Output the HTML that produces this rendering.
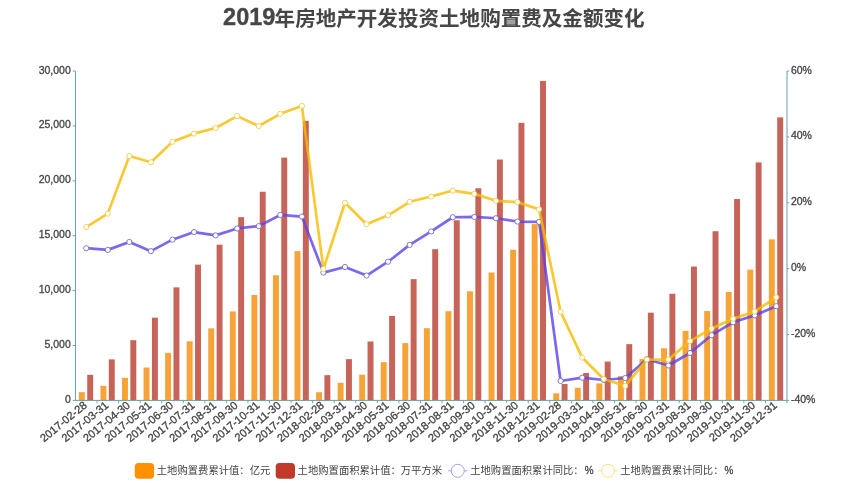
<!DOCTYPE html>
<html lang="zh-CN">
<head>
<meta charset="utf-8">
<title>2019年房地产开发投资土地购置费及金额变化</title>
<style>
html,body{margin:0;padding:0;background:#fff;}
body{width:865px;height:486px;overflow:hidden;font-family:"Liberation Sans",sans-serif;}
svg{display:block;will-change:transform;}
text{font-family:"Liberation Sans","Noto Sans CJK SC",sans-serif;}
.ax{fill:#444444;font-size:10.5px;stroke:#444444;stroke-width:0.3;}
.lg{fill:#444444;font-size:10.32px;}
</style>
</head>
<body>
<svg width="865" height="486" viewBox="0 0 865 486" role="img" aria-label="2019年房地产开发投资土地购置费及金额变化">
<rect width="865" height="486" fill="#fff"/>
<g fill="#464646" stroke="#464646" stroke-width="0.35"><title>2019年房地产开发投资土地购置费及金额变化</title>
<text x="223.1" y="25" font-size="23px" font-weight="bold" textLength="52.2" lengthAdjust="spacingAndGlyphs">2019</text>
<text x="274.6" y="25.5" font-size="20.55px" font-weight="bold" stroke="none" textLength="370" lengthAdjust="spacingAndGlyphs">年房地产开发投资土地购置费及金额变化</text>
</g>
<g fill="#f8a338">
<rect x="78.88" y="392.18" width="5.95" height="8.22"/><rect x="100.44" y="385.82" width="5.95" height="14.58"/><rect x="122.01" y="377.81" width="5.95" height="22.59"/><rect x="143.57" y="367.56" width="5.95" height="32.84"/><rect x="165.13" y="352.85" width="5.95" height="47.55"/><rect x="186.69" y="341.3" width="5.95" height="59.1"/><rect x="208.25" y="328.33" width="5.95" height="72.07"/><rect x="229.82" y="311.42" width="5.95" height="88.98"/><rect x="251.38" y="294.98" width="5.95" height="105.42"/><rect x="272.94" y="275.29" width="5.95" height="125.11"/><rect x="294.5" y="251.1" width="5.95" height="149.3"/><rect x="316.06" y="392.28" width="5.95" height="8.12"/><rect x="337.63" y="382.82" width="5.95" height="17.58"/><rect x="359.19" y="374.69" width="5.95" height="25.71"/><rect x="380.75" y="362.17" width="5.95" height="38.23"/><rect x="402.31" y="343.09" width="5.95" height="57.31"/><rect x="423.88" y="328.22" width="5.95" height="72.18"/><rect x="445.44" y="311.2" width="5.95" height="89.2"/><rect x="467" y="291.31" width="5.95" height="109.09"/><rect x="488.56" y="272.48" width="5.95" height="127.92"/><rect x="510.12" y="249.75" width="5.95" height="150.65"/><rect x="531.69" y="224.1" width="5.95" height="176.3"/><rect x="553.25" y="393.32" width="5.95" height="7.08"/><rect x="574.81" y="387.79" width="5.95" height="12.61"/><rect x="596.37" y="383.44" width="5.95" height="16.96"/><rect x="617.93" y="375.99" width="5.95" height="24.41"/><rect x="639.5" y="359.06" width="5.95" height="41.34"/><rect x="661.06" y="348.25" width="5.95" height="52.15"/><rect x="682.62" y="330.91" width="5.95" height="69.49"/><rect x="704.18" y="311.02" width="5.95" height="89.38"/><rect x="725.74" y="291.97" width="5.95" height="108.43"/><rect x="747.31" y="269.58" width="5.95" height="130.82"/><rect x="768.87" y="239.4" width="5.95" height="161"/>
</g>
<g fill="#c7645a">
<rect x="87.23" y="374.83" width="5.95" height="25.57"/><rect x="108.79" y="359.37" width="5.95" height="41.03"/><rect x="130.36" y="340.2" width="5.95" height="60.2"/><rect x="151.92" y="317.67" width="5.95" height="82.73"/><rect x="173.48" y="287.36" width="5.95" height="113.04"/><rect x="195.04" y="264.64" width="5.95" height="135.76"/><rect x="216.6" y="244.67" width="5.95" height="155.73"/><rect x="238.17" y="217.17" width="5.95" height="183.23"/><rect x="259.73" y="191.75" width="5.95" height="208.65"/><rect x="281.29" y="157.61" width="5.95" height="242.79"/><rect x="302.85" y="120.82" width="5.95" height="279.58"/><rect x="324.41" y="375.15" width="5.95" height="25.25"/><rect x="345.98" y="359.15" width="5.95" height="41.25"/><rect x="367.54" y="341.48" width="5.95" height="58.92"/><rect x="389.1" y="315.89" width="5.95" height="84.51"/><rect x="410.66" y="279.19" width="5.95" height="121.21"/><rect x="432.22" y="249.18" width="5.95" height="151.22"/><rect x="453.79" y="220.27" width="5.95" height="180.13"/><rect x="475.35" y="188.26" width="5.95" height="212.14"/><rect x="496.91" y="159.57" width="5.95" height="240.83"/><rect x="518.47" y="122.82" width="5.95" height="277.58"/><rect x="540.04" y="80.92" width="5.95" height="319.48"/><rect x="561.6" y="383.94" width="5.95" height="16.46"/><rect x="583.16" y="372.98" width="5.95" height="27.42"/><rect x="604.72" y="361.57" width="5.95" height="38.83"/><rect x="626.28" y="344.13" width="5.95" height="56.27"/><rect x="647.85" y="312.68" width="5.95" height="87.72"/><rect x="669.41" y="293.72" width="5.95" height="106.68"/><rect x="690.97" y="266.55" width="5.95" height="133.85"/><rect x="712.53" y="231.22" width="5.95" height="169.18"/><rect x="734.09" y="199.05" width="5.95" height="201.35"/><rect x="755.66" y="162.41" width="5.95" height="237.99"/><rect x="777.22" y="117.37" width="5.95" height="283.03"/>
</g>
<g stroke="#64a0a4" stroke-width="1" fill="none">
<path d="M75.45 71V400.4 M787 71V400.4 M75.45 400.4H787"/>
<path stroke="#7a9fa2" d="M72.65 400.4H75.45M72.65 345.5H75.45M72.65 290.6H75.45M72.65 235.7H75.45M72.65 180.8H75.45M72.65 125.9H75.45M72.65 71H75.45M787 400.4H789.2M787 334.52H789.2M787 268.64H789.2M787 202.76H789.2M787 136.88H789.2M787 71H789.2M97.01 400.4V403.2M118.57 400.4V403.2M140.14 400.4V403.2M161.7 400.4V403.2M183.26 400.4V403.2M204.82 400.4V403.2M226.38 400.4V403.2M247.95 400.4V403.2M269.51 400.4V403.2M291.07 400.4V403.2M312.63 400.4V403.2M334.2 400.4V403.2M355.76 400.4V403.2M377.32 400.4V403.2M398.88 400.4V403.2M420.44 400.4V403.2M442.01 400.4V403.2M463.57 400.4V403.2M485.13 400.4V403.2M506.69 400.4V403.2M528.25 400.4V403.2M549.82 400.4V403.2M571.38 400.4V403.2M592.94 400.4V403.2M614.5 400.4V403.2M636.07 400.4V403.2M657.63 400.4V403.2M679.19 400.4V403.2M700.75 400.4V403.2M722.31 400.4V403.2M743.88 400.4V403.2M765.44 400.4V403.2M787 400.4V403.2"/>
</g>
<g class="ax">
<text x="70.75" y="402.9" text-anchor="end">0</text><text x="70.75" y="348" text-anchor="end">5,000</text><text x="70.75" y="293.1" text-anchor="end">10,000</text><text x="70.75" y="238.2" text-anchor="end">15,000</text><text x="70.75" y="183.3" text-anchor="end">20,000</text><text x="70.75" y="128.4" text-anchor="end">25,000</text><text x="70.75" y="73.5" text-anchor="end">30,000</text>
<text x="790.9" y="402.9">-40%</text><text x="790.9" y="337.02">-20%</text><text x="790.9" y="271.14">0%</text><text x="790.9" y="205.26">20%</text><text x="790.9" y="139.38">40%</text><text x="790.9" y="73.5">60%</text>
<text transform="translate(85.33 403.6) rotate(-39.5)" text-anchor="end" y="3.7" style="font-size:11.1px">2017-02-28</text><text transform="translate(106.89 403.6) rotate(-39.5)" text-anchor="end" y="3.7" style="font-size:11.1px">2017-03-31</text><text transform="translate(128.46 403.6) rotate(-39.5)" text-anchor="end" y="3.7" style="font-size:11.1px">2017-04-30</text><text transform="translate(150.02 403.6) rotate(-39.5)" text-anchor="end" y="3.7" style="font-size:11.1px">2017-05-31</text><text transform="translate(171.58 403.6) rotate(-39.5)" text-anchor="end" y="3.7" style="font-size:11.1px">2017-06-30</text><text transform="translate(193.14 403.6) rotate(-39.5)" text-anchor="end" y="3.7" style="font-size:11.1px">2017-07-31</text><text transform="translate(214.7 403.6) rotate(-39.5)" text-anchor="end" y="3.7" style="font-size:11.1px">2017-08-31</text><text transform="translate(236.27 403.6) rotate(-39.5)" text-anchor="end" y="3.7" style="font-size:11.1px">2017-09-30</text><text transform="translate(257.83 403.6) rotate(-39.5)" text-anchor="end" y="3.7" style="font-size:11.1px">2017-10-31</text><text transform="translate(279.39 403.6) rotate(-39.5)" text-anchor="end" y="3.7" style="font-size:11.1px">2017-11-30</text><text transform="translate(300.95 403.6) rotate(-39.5)" text-anchor="end" y="3.7" style="font-size:11.1px">2017-12-31</text><text transform="translate(322.51 403.6) rotate(-39.5)" text-anchor="end" y="3.7" style="font-size:11.1px">2018-02-28</text><text transform="translate(344.08 403.6) rotate(-39.5)" text-anchor="end" y="3.7" style="font-size:11.1px">2018-03-31</text><text transform="translate(365.64 403.6) rotate(-39.5)" text-anchor="end" y="3.7" style="font-size:11.1px">2018-04-30</text><text transform="translate(387.2 403.6) rotate(-39.5)" text-anchor="end" y="3.7" style="font-size:11.1px">2018-05-31</text><text transform="translate(408.76 403.6) rotate(-39.5)" text-anchor="end" y="3.7" style="font-size:11.1px">2018-06-30</text><text transform="translate(430.32 403.6) rotate(-39.5)" text-anchor="end" y="3.7" style="font-size:11.1px">2018-07-31</text><text transform="translate(451.89 403.6) rotate(-39.5)" text-anchor="end" y="3.7" style="font-size:11.1px">2018-08-31</text><text transform="translate(473.45 403.6) rotate(-39.5)" text-anchor="end" y="3.7" style="font-size:11.1px">2018-09-30</text><text transform="translate(495.01 403.6) rotate(-39.5)" text-anchor="end" y="3.7" style="font-size:11.1px">2018-10-31</text><text transform="translate(516.57 403.6) rotate(-39.5)" text-anchor="end" y="3.7" style="font-size:11.1px">2018-11-30</text><text transform="translate(538.14 403.6) rotate(-39.5)" text-anchor="end" y="3.7" style="font-size:11.1px">2018-12-31</text><text transform="translate(559.7 403.6) rotate(-39.5)" text-anchor="end" y="3.7" style="font-size:11.1px">2019-02-28</text><text transform="translate(581.26 403.6) rotate(-39.5)" text-anchor="end" y="3.7" style="font-size:11.1px">2019-03-31</text><text transform="translate(602.82 403.6) rotate(-39.5)" text-anchor="end" y="3.7" style="font-size:11.1px">2019-04-30</text><text transform="translate(624.38 403.6) rotate(-39.5)" text-anchor="end" y="3.7" style="font-size:11.1px">2019-05-31</text><text transform="translate(645.95 403.6) rotate(-39.5)" text-anchor="end" y="3.7" style="font-size:11.1px">2019-06-30</text><text transform="translate(667.51 403.6) rotate(-39.5)" text-anchor="end" y="3.7" style="font-size:11.1px">2019-07-31</text><text transform="translate(689.07 403.6) rotate(-39.5)" text-anchor="end" y="3.7" style="font-size:11.1px">2019-08-31</text><text transform="translate(710.63 403.6) rotate(-39.5)" text-anchor="end" y="3.7" style="font-size:11.1px">2019-09-30</text><text transform="translate(732.19 403.6) rotate(-39.5)" text-anchor="end" y="3.7" style="font-size:11.1px">2019-10-31</text><text transform="translate(753.76 403.6) rotate(-39.5)" text-anchor="end" y="3.7" style="font-size:11.1px">2019-11-30</text><text transform="translate(775.32 403.6) rotate(-39.5)" text-anchor="end" y="3.7" style="font-size:11.1px">2019-12-31</text>
</g>
<polyline points="86.23,248.22 107.79,249.86 129.36,241.96 150.92,251.18 172.48,239.65 194.04,232.08 215.6,235.37 237.17,228.45 258.73,226.15 280.29,214.95 301.85,216.59 323.41,272.59 344.98,266.99 366.54,275.56 388.1,261.72 409.66,244.92 431.22,231.42 452.79,217.25 474.35,216.92 495.91,218.24 517.47,221.54 539.04,221.87 560.6,380.97 582.16,377.67 603.72,379.98 625.28,378 646.85,359.22 668.41,365.48 689.97,352.97 711.53,335.18 733.09,322.33 754.66,315.41 776.22,306.19" fill="none" stroke="#5a42ea" stroke-width="2.7" stroke-linejoin="bevel" stroke-opacity="0.8"/>
<g fill="#fff" stroke="#6d63c2" stroke-width="0.85"><circle cx="86.23" cy="248.22" r="2.6"/><circle cx="107.79" cy="249.86" r="2.6"/><circle cx="129.36" cy="241.96" r="2.6"/><circle cx="150.92" cy="251.18" r="2.6"/><circle cx="172.48" cy="239.65" r="2.6"/><circle cx="194.04" cy="232.08" r="2.6"/><circle cx="215.6" cy="235.37" r="2.6"/><circle cx="237.17" cy="228.45" r="2.6"/><circle cx="258.73" cy="226.15" r="2.6"/><circle cx="280.29" cy="214.95" r="2.6"/><circle cx="301.85" cy="216.59" r="2.6"/><circle cx="323.41" cy="272.59" r="2.6"/><circle cx="344.98" cy="266.99" r="2.6"/><circle cx="366.54" cy="275.56" r="2.6"/><circle cx="388.1" cy="261.72" r="2.6"/><circle cx="409.66" cy="244.92" r="2.6"/><circle cx="431.22" cy="231.42" r="2.6"/><circle cx="452.79" cy="217.25" r="2.6"/><circle cx="474.35" cy="216.92" r="2.6"/><circle cx="495.91" cy="218.24" r="2.6"/><circle cx="517.47" cy="221.54" r="2.6"/><circle cx="539.04" cy="221.87" r="2.6"/><circle cx="560.6" cy="380.97" r="2.6"/><circle cx="582.16" cy="377.67" r="2.6"/><circle cx="603.72" cy="379.98" r="2.6"/><circle cx="625.28" cy="378" r="2.6"/><circle cx="646.85" cy="359.22" r="2.6"/><circle cx="668.41" cy="365.48" r="2.6"/><circle cx="689.97" cy="352.97" r="2.6"/><circle cx="711.53" cy="335.18" r="2.6"/><circle cx="733.09" cy="322.33" r="2.6"/><circle cx="754.66" cy="315.41" r="2.6"/><circle cx="776.22" cy="306.19" r="2.6"/></g>
<polyline points="86.23,227.14 107.79,213.63 129.36,155.99 150.92,162.24 172.48,141.82 194.04,133.59 215.6,127.99 237.17,116.13 258.73,126.01 280.29,113.82 301.85,105.92 323.41,268.97 344.98,202.76 366.54,224.17 388.1,215.28 409.66,201.77 431.22,196.5 452.79,190.57 474.35,193.87 495.91,200.78 517.47,202.1 539.04,209.35 560.6,311.79 582.16,357.58 603.72,378.99 625.28,385.91 646.85,359.55 668.41,359.55 689.97,341.11 711.53,328.59 733.09,318.71 754.66,311.46 776.22,297.3" fill="none" stroke="#f6bb00" stroke-width="2.7" stroke-linejoin="bevel" stroke-opacity="0.8"/>
<g fill="#fff" stroke="#e6cc48" stroke-width="0.85"><circle cx="86.23" cy="227.14" r="2.6"/><circle cx="107.79" cy="213.63" r="2.6"/><circle cx="129.36" cy="155.99" r="2.6"/><circle cx="150.92" cy="162.24" r="2.6"/><circle cx="172.48" cy="141.82" r="2.6"/><circle cx="194.04" cy="133.59" r="2.6"/><circle cx="215.6" cy="127.99" r="2.6"/><circle cx="237.17" cy="116.13" r="2.6"/><circle cx="258.73" cy="126.01" r="2.6"/><circle cx="280.29" cy="113.82" r="2.6"/><circle cx="301.85" cy="105.92" r="2.6"/><circle cx="323.41" cy="268.97" r="2.6"/><circle cx="344.98" cy="202.76" r="2.6"/><circle cx="366.54" cy="224.17" r="2.6"/><circle cx="388.1" cy="215.28" r="2.6"/><circle cx="409.66" cy="201.77" r="2.6"/><circle cx="431.22" cy="196.5" r="2.6"/><circle cx="452.79" cy="190.57" r="2.6"/><circle cx="474.35" cy="193.87" r="2.6"/><circle cx="495.91" cy="200.78" r="2.6"/><circle cx="517.47" cy="202.1" r="2.6"/><circle cx="539.04" cy="209.35" r="2.6"/><circle cx="560.6" cy="311.79" r="2.6"/><circle cx="582.16" cy="357.58" r="2.6"/><circle cx="603.72" cy="378.99" r="2.6"/><circle cx="625.28" cy="385.91" r="2.6"/><circle cx="646.85" cy="359.55" r="2.6"/><circle cx="668.41" cy="359.55" r="2.6"/><circle cx="689.97" cy="341.11" r="2.6"/><circle cx="711.53" cy="328.59" r="2.6"/><circle cx="733.09" cy="318.71" r="2.6"/><circle cx="754.66" cy="311.46" r="2.6"/><circle cx="776.22" cy="297.3" r="2.6"/></g>
<g><title>土地购置费累计值：亿元</title><rect x="134.8" y="462.9" width="19.3" height="15.8" rx="3.8" fill="#ff9000"/><text class="lg" x="156.8" y="473.9" textLength="113.5" lengthAdjust="spacingAndGlyphs">土地购置费累计值：亿元</text></g>
<g><title>土地购置面积累计值：万平方米</title><rect x="275.7" y="462.9" width="19.3" height="15.8" rx="3.8" fill="#c0392b"/><text class="lg" x="297.6" y="473.9" textLength="144.5" lengthAdjust="spacingAndGlyphs">土地购置面积累计值：万平方米</text></g>
<g><title>土地购置面积累计同比：%</title><path d="M448.1 470.8H467.4" stroke="#9488ee" stroke-width="0.8" fill="none"/><circle cx="457.75" cy="470.8" r="6.5" fill="#fff" stroke="#9488ee" stroke-width="0.8"/><text class="lg" x="470.2" y="473.9" textLength="113.5" lengthAdjust="spacingAndGlyphs">土地购置面积累计同比：</text><text class="ax" x="584.72" y="474.2" style="font-size:11.6px" textLength="8.8" lengthAdjust="spacingAndGlyphs">%</text></g>
<g><title>土地购置费累计同比：%</title><path d="M598.4 470.8H617.7" stroke="#f4d85e" stroke-width="0.8" fill="none"/><circle cx="608.05" cy="470.8" r="6.5" fill="#fff" stroke="#f4d85e" stroke-width="0.8"/><text class="lg" x="620.3" y="473.9" textLength="103.2" lengthAdjust="spacingAndGlyphs">土地购置费累计同比：</text><text class="ax" x="724.5" y="474.2" style="font-size:11.6px" textLength="8.8" lengthAdjust="spacingAndGlyphs">%</text></g>
</svg>
</body>
</html>
